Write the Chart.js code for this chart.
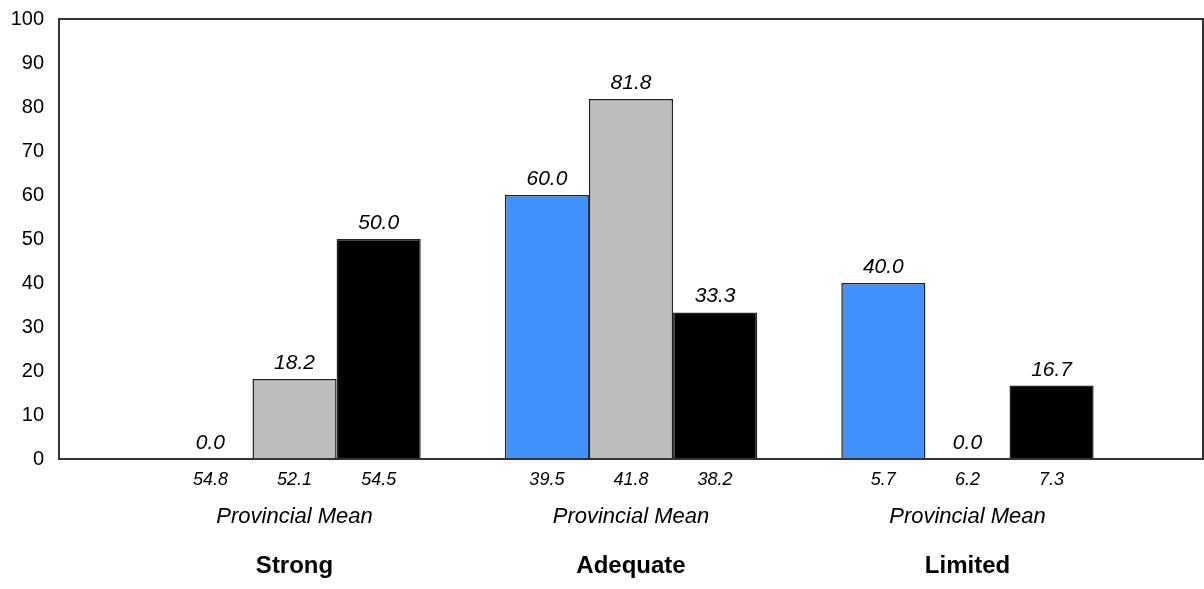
<!DOCTYPE html>
<html>
<head>
<meta charset="utf-8">
<script src="https://cdn.jsdelivr.net/npm/chart.js@4"></script>
<style>
html,body{margin:0;padding:0;background:#fff;}
#wrap{width:1204px;height:589px;}
</style>
</head>
<body>
<div id="wrap"><canvas id="c" width="1204" height="589"></canvas></div>
<script>
const categories = ["Strong", "Adequate", "Limited"];
const seriesBlue = [0.0, 60.0, 40.0];
const seriesGray = [18.2, 81.8, 0.0];
const seriesBlack = [50.0, 33.3, 16.7];
const meansBlue = [54.8, 39.5, 5.7];
const meansGray = [52.1, 41.8, 6.2];
const meansBlack = [54.5, 38.2, 7.3];
const subLabel = "Provincial Mean";
const yTicks = [0, 10, 20, 30, 40, 50, 60, 70, 80, 90, 100];

const CAT_PCT = 0.75;
const barUnit = CAT_PCT / 3;

function pts(arr){ return arr.map((v,i)=>({x:i, y:v})); }

const meanTickVals = [];
const meanTickText = {};
categories.forEach((c,i)=>{
  [[meansBlue,-1],[meansGray,0],[meansBlack,1]].forEach(([m,o])=>{
    const v = +(i + o*barUnit).toFixed(4);
    meanTickVals.push(v);
    meanTickText[v] = m[i].toFixed(1);
  });
});

const frame = {
  id:'frame',
  afterDatasetsDraw(chart){
    const {ctx, chartArea:a} = chart;
    ctx.save();
    ctx.strokeStyle = '#333';
    ctx.lineWidth = 2;
    ctx.strokeRect(a.left, a.top, a.right - a.left, a.bottom - a.top);
    ctx.restore();
    ctx.save();
    ctx.font = 'italic 21px "Liberation Sans", Arial';
    ctx.fillStyle = '#000';
    ctx.textAlign = 'center';
    ctx.textBaseline = 'alphabetic';
    chart.data.datasets.forEach((ds, di)=>{
      const meta = chart.getDatasetMeta(di);
      meta.data.forEach((el, i)=>{
        const v = ds.data[i].y;
        ctx.fillText(v.toFixed(1), el.x, el.y - 10);
      });
    });
    ctx.restore();
  }
};

const common = {
  type:'linear', position:'bottom', min:-0.7, max:2.7, offset:false,
  grid:{display:false, drawTicks:false}, border:{display:false}
};

new Chart(document.getElementById('c'), {
  type:'bar',
  data:{
    datasets:[
      {label:'Blue', data:pts(seriesBlue), backgroundColor:'#4191FF', borderColor:'#222', borderWidth:1.5},
      {label:'Gray', data:pts(seriesGray), backgroundColor:'#BEBEBE', borderColor:'#222', borderWidth:1.5},
      {label:'Black', data:pts(seriesBlack), backgroundColor:'#000000', borderColor:'#222', borderWidth:1.5}
    ]
  },
  options:{
    responsive:false,
    animation:false,
    events:[],
    categoryPercentage:CAT_PCT,
    barPercentage:1,
    layout:{padding:{top:19, right:1, left:0, bottom:0}},
    plugins:{legend:{display:false}, tooltip:{enabled:false}},
    scales:{
      x:Object.assign({}, common, {
        weight:1,
        afterBuildTicks(s){ s.ticks = categories.map((c,i)=>({value:i})); },
        ticks:{ autoSkip:false, maxRotation:0, padding:5, color:'#000',
          font:{family:'"Liberation Sans", Arial', size:22, style:'italic'},
          callback:()=>subLabel },
        afterFit(s){ s.height = 45; s.paddingLeft = 0; s.paddingRight = 0; }
      }),
      xm:Object.assign({}, common, {
        weight:0,
        afterBuildTicks(s){ s.ticks = meanTickVals.map(v=>({value:v})); },
        ticks:{ autoSkip:false, maxRotation:0, padding:10, color:'#000',
          font:{family:'"Liberation Sans", Arial', size:18, style:'italic'},
          callback:(v)=>meanTickText[+(+v).toFixed(4)] },
        afterFit(s){ s.height = 40; s.paddingLeft = 0; s.paddingRight = 0; }
      }),
      x3:Object.assign({}, common, {
        weight:2,
        afterBuildTicks(s){ s.ticks = categories.map((c,i)=>({value:i})); },
        ticks:{ autoSkip:false, maxRotation:0, padding:8, color:'#000',
          font:{family:'"Liberation Sans", Arial', size:24, weight:'bold'},
          callback:(v)=>categories[Math.round(v)] },
        afterFit(s){ s.height = 45; s.paddingLeft = 0; s.paddingRight = 0; }
      }),
      y:{
        min:0, max:100, beginAtZero:true,
        afterBuildTicks(s){ s.ticks = yTicks.map(v=>({value:v})); },
        grid:{display:false, drawTicks:false}, border:{display:false},
        ticks:{ padding:15, color:'#000', font:{family:'"Liberation Sans", Arial', size:20} },
        afterFit(s){ s.width = 59; s.paddingTop = 0; s.paddingBottom = 0; }
      }
    }
  },
  plugins:[frame]
});
</script>
</body>
</html>
